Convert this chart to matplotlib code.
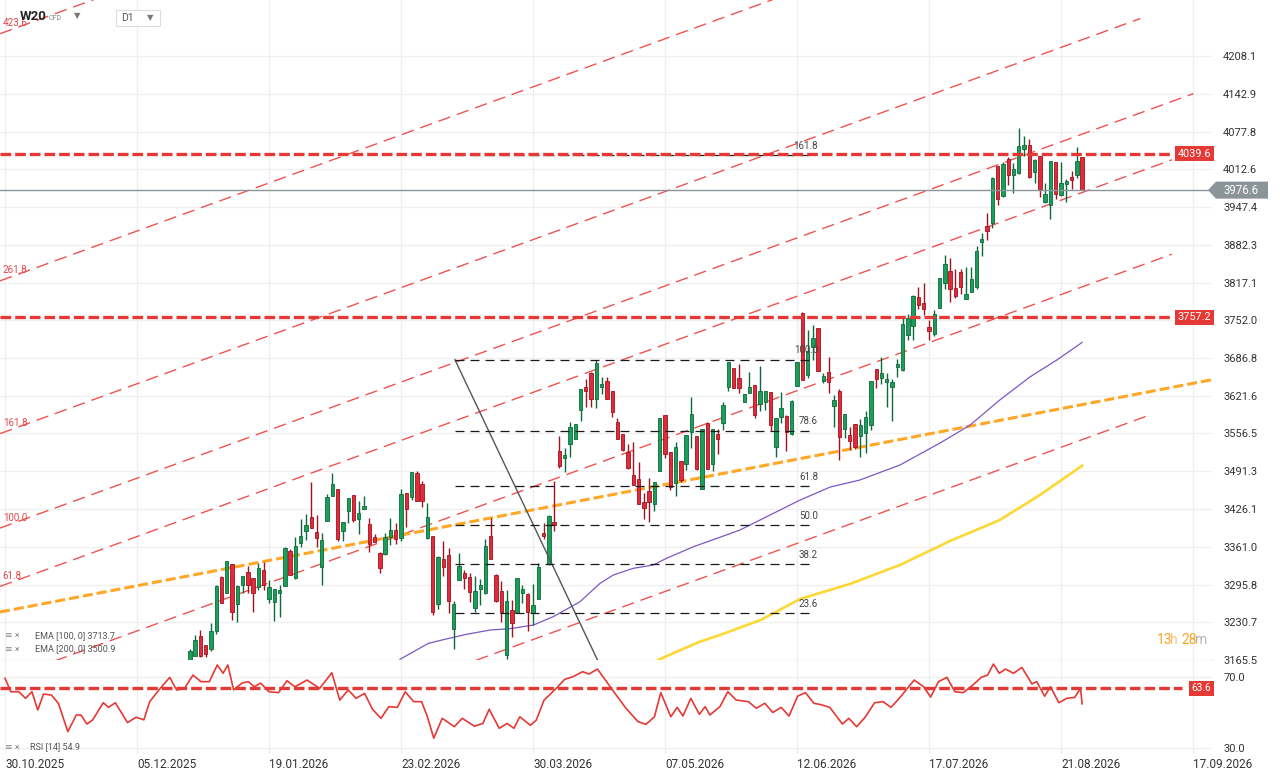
import numpy as np
import matplotlib.pyplot as plt
from matplotlib.patches import Polygon, Rectangle
from matplotlib.transforms import blended_transform_factory

plt.rcParams['font.family'] = ['Roboto', 'DejaVu Sans']

# ---- values, bar index 0 = 30.10.2025 ----
first_bar = 35
opens = [3163, 3173, 3207, 3191, 3184.5, 3215.6, 3308.8, 3281.7, 3330.6, 3262.7,
         3295.5, 3317.4, 3306.5, 3291.5, 3320.9, 3271.4, 3266.2, 3281.7, 3293.8, 3353.7,
         3306.5, 3368, 3388.8, 3411.8, 3386.4, 3326.6, 3406, 3449.2, 3460.7, 3388.8,
         3423.3, 3450.3, 3409.5, 3426.7, 3400.3, 3377.2, 3349.6, 3347.9, 3378.4, 3389.9,
         3375.5, 3453.8, 3446.3, 3487.7, 3469.3, 3376.7, 3379.5, 3262.7, 3339.8, 3346.2,
         3218.4, 3303.6, 3315.1, 3308.8, 3255.8, 3288.6, 3280.6, 3379.5, 3312.2, 3284,
         3174.1, 3251.2, 3247.2, 3280.6, 3278.9, 3247.2, 3270.2, 3385.3, 3330.6, 3403.7,
         3526.3, 3514.7, 3537.8, 3547.6, 3597.6, 3636.2, 3660.3, 3615.4, 3636.2, 3646.5,
         3630.4, 3576.3, 3555, 3524, 3484.2, 3477.3, 3438.8, 3456.6, 3435.3, 3492.3,
         3587.8, 3524, 3470.4, 3508.4, 3503.2, 3558.5, 3552.1, 3460.1, 3574, 3503.2,
         3555, 3574, 3636.2, 3668.9, 3651.7, 3611.4, 3626.9, 3639.6, 3607.4, 3610.8,
         3628.1, 3532.6, 3584.4, 3586.7, 3556.2, 3637.9, 3763.9, 3658, 3706.3, 3738,
         3647.7, 3662.6, 3603.9, 3630.4, 3564.8, 3553.9, 3572.9, 3552.7, 3556.7, 3570.5,
         3667.2, 3652.9, 3645.9, 3636.1, 3671.9, 3666.1, 3726.5, 3742.6, 3791.5, 3781.1,
         3740.9, 3727.6, 3772.5, 3816.8, 3836.9, 3807, 3834.6, 3788, 3801.3, 3809.9,
         3887.6, 3914.6, 3920.4, 4018.2, 3966.4, 4029.7, 4002.7, 4005.6, 4047, 4054.4,
         4007.3, 4035.5, 3956.6, 3950.9, 4025.1, 3967.6, 3986.6, 3999.8, 4002.1, 4034.3]
highs = [3184.5, 3208.7, 3217, 3191, 3229, 3295, 3310.5, 3336.4, 3330.6, 3295,
         3310, 3327.2, 3306.5, 3332.4, 3334.7, 3303, 3287.5, 3295, 3361, 3356.5,
         3377.2, 3408.3, 3417.5, 3472.8, 3415.2, 3384.7, 3452, 3488.3, 3460.7, 3403.7,
         3444.6, 3450.3, 3440, 3448.6, 3410, 3383, 3352.5, 3384.1, 3410, 3402.6,
         3460.7, 3453.8, 3490.5, 3491.7, 3473.9, 3436, 3379.5, 3345, 3371.5, 3358.8,
         3267.3, 3349.6, 3321, 3316, 3310, 3304.7, 3375, 3410, 3314, 3301.3,
         3286.3, 3269.1, 3307, 3295, 3282, 3296.1, 3332.4, 3401.4, 3416, 3474.5,
         3552.1, 3530.9, 3576.3, 3572.3, 3632.7, 3650, 3662.6, 3683.3, 3654, 3654,
         3630.4, 3582.6, 3555, 3538.3, 3541.8, 3507.3, 3453.2, 3480.2, 3472.2, 3582.6,
         3587.8, 3524, 3542.4, 3508.4, 3553.3, 3619.5, 3552.1, 3563.7, 3576.9, 3564.8,
         3564.8, 3610.3, 3679.3, 3668.9, 3675.9, 3624.1, 3663.2, 3639.6, 3673, 3629.8,
         3628.1, 3582.6, 3628.7, 3588.4, 3614.3, 3679.9, 3765.6, 3735.1, 3743.7, 3738,
         3661.5, 3689.1, 3622.9, 3633.8, 3590.1, 3567.1, 3572.9, 3582.1, 3595.3, 3647.7,
         3667.2, 3689.1, 3661.5, 3650, 3685.6, 3757, 3762.7, 3795.5, 3808.7, 3815.6,
         3752.4, 3769.6, 3824.3, 3864.6, 3860, 3840.4, 3840.4, 3844.4, 3844.4, 3880.7,
         3902, 3936.5, 3999.8, 4018.2, 4025.7, 4034.3, 4022.8, 4083.8, 4070, 4064.2,
         4029.7, 4035.5, 3989.4, 4026.8, 4025.1, 4025.1, 3995.2, 4009.6, 4051, 4034.3]
lows = [3155, 3172, 3171, 3171, 3181.6, 3211, 3264, 3281, 3235, 3231,
        3280.6, 3280.6, 3248.4, 3286, 3286, 3264.5, 3233.4, 3240.3, 3293, 3312,
        3305, 3360, 3372.6, 3394, 3361.1, 3295.5, 3406, 3449, 3371.5, 3371.5,
        3402.6, 3404, 3382.4, 3426, 3352.5, 3369, 3316.3, 3347, 3364, 3365.7,
        3371.5, 3395.7, 3441.7, 3440, 3430.2, 3374, 3243.2, 3254.1, 3310.5, 3247.2,
        3183.9, 3303, 3288.6, 3266.2, 3249, 3259.9, 3280, 3340, 3266, 3231.1,
        3166.7, 3205.8, 3247, 3263.3, 3216.1, 3225.9, 3270, 3374, 3330, 3388,
        3497.5, 3490, 3516.5, 3547, 3578.6, 3602.8, 3602.8, 3601.1, 3624.1, 3616,
        3585.6, 3547, 3527, 3495.8, 3468, 3434, 3408.3, 3403.7, 3423.3, 3492,
        3514.7, 3458.9, 3449.2, 3472.2, 3493.5, 3531.4, 3493.5, 3460, 3495.8, 3492.3,
        3520.5, 3562.5, 3630.4, 3635, 3626.9, 3611, 3626, 3583.8, 3595.9, 3597,
        3561.3, 3516.5, 3574, 3526.8, 3554.4, 3637.9, 3648, 3652.9, 3683.3, 3663.8,
        3643, 3626.9, 3567.1, 3510.7, 3548.1, 3528, 3530, 3515.3, 3523.4, 3562,
        3634.4, 3641.3, 3602.8, 3578.6, 3653.4, 3664, 3717.8, 3717.8, 3771.9, 3760.4,
        3717.8, 3724.7, 3772.5, 3805.3, 3784, 3790.9, 3797.2, 3788, 3801, 3805.9,
        3862.8, 3890.5, 3910.6, 3950.9, 3964.1, 3985.4, 3972.2, 4005, 4035.5, 3996.9,
        3988.3, 3964.1, 3954.9, 3926.1, 3961.8, 3967, 3956.6, 3978.5, 3996.9, 3976.6]
closes = [3181, 3200, 3173, 3176, 3215.6, 3293.8, 3264.5, 3336.4, 3249, 3293.2,
          3309.9, 3295.5, 3281.7, 3324.3, 3295, 3291.5, 3287.5, 3286.3, 3358.8, 3312.8,
          3361.7, 3379.5, 3398, 3394, 3376.7, 3372.6, 3446.9, 3469.3, 3375, 3403.7,
          3444.6, 3407.2, 3419.2, 3431.3, 3365.2, 3369.8, 3324.9, 3378.4, 3389.9, 3373.8,
          3452, 3426.7, 3490, 3440.5, 3440.5, 3411.8, 3247.8, 3343.9, 3325.5, 3267.9,
          3262.2, 3328.3, 3307.6, 3282.3, 3284, 3295, 3361.7, 3340.4, 3267.9, 3247.8,
          3266.8, 3228.8, 3307, 3287.5, 3249, 3260.4, 3326.6, 3379.5, 3414.1, 3399,
          3500.9, 3518.8, 3567.1, 3572.3, 3632.7, 3630.4, 3616.6, 3677.6, 3641.9, 3616.6,
          3594.2, 3547.6, 3527.4, 3496.9, 3468.1, 3434.2, 3428.4, 3438.8, 3472.2, 3582.6,
          3521.7, 3464.7, 3532.6, 3475.6, 3553.3, 3589.6, 3495.8, 3563.7, 3495.8, 3564.8,
          3546.4, 3605.1, 3679.3, 3635.6, 3634.4, 3624.1, 3636.1, 3587.8, 3629.8, 3629.8,
          3571.7, 3582.6, 3600.5, 3559.6, 3613.1, 3679.9, 3648.2, 3699.4, 3721.3, 3663.8,
          3655.1, 3645.9, 3614.3, 3551, 3590.1, 3544.1, 3532.6, 3570.5, 3584.9, 3647.7,
          3650.5, 3661.5, 3650.5, 3644.8, 3676.4, 3745.5, 3755.3, 3793.8, 3777.7, 3770.8,
          3733.9, 3762.1, 3824.3, 3849, 3805.3, 3794.4, 3808.7, 3797.2, 3822.6, 3871.5,
          3892.2, 3906.6, 3996.9, 3960.6, 4021.1, 4002.7, 4012.4, 4052.7, 4054.4, 3999.8,
          4028.6, 3977.9, 3969.3, 4026.8, 3969.3, 3988.3, 3992.3, 3993.5, 4026.8, 3976.6]

date_labels = ['30.10.2025', '05.12.2025', '19.01.2026', '23.02.2026', '30.03.2026',
               '07.05.2026', '12.06.2026', '17.07.2026', '21.08.2026', '17.09.2026']
date_bars = [0, 25, 50, 75, 100, 125, 150, 175, 200, 225]

price_ticks = [4208.1, 4142.9, 4077.8, 4012.6, 3947.4, 3882.3, 3817.1, 3752.0, 3686.8,
               3621.6, 3556.5, 3491.3, 3426.1, 3361.0, 3295.8, 3230.7, 3165.5]

ema100_bars = [74.8, 80.2, 83.3, 87.4, 91.9, 95.6, 100.1, 103.8, 108.9, 112.7, 115.2, 119.0,
               122.8, 125.3, 130.4, 135.4, 139.2, 146.8, 150.6, 156.3, 161.9, 169.5, 177.1,
               182.8, 188.4, 194.1, 199.2, 204.0]
ema100_vals = [3166.7, 3194.3, 3201.2, 3209.8, 3217.3, 3219.5, 3225.9, 3240.2, 3266.1, 3297.9,
               3312.2, 3323.8, 3329.5, 3341.1, 3361.1, 3377.3, 3389.9, 3424.4, 3441.7, 3464.1,
               3476.2, 3502.1, 3540.1, 3571.1, 3614.3, 3654.0, 3683.3, 3713.7]
ema200_bars = [123.7, 127.2, 131.6, 135.4, 143.1, 150.6, 160.0, 169.5, 179.0, 188.4, 196.0, 204.0]
ema200_vals = [3165.5, 3179.8, 3197.1, 3208.6, 3234.5, 3270.8, 3296.7, 3329.5, 3371.0, 3407.1,
               3450.3, 3500.9]

rsi_bars = [0.0, 1.1, 2.6, 3.9, 5.1, 6.2, 7.3, 8.8, 10.1, 11.9,
            13.5, 14.4, 15.5, 16.6, 18.6, 19.6, 20.9, 23.2, 24.8, 26.3,
            27.4, 29.4, 31.2, 32.5, 34.0, 35.6, 37.1, 38.7, 40.2, 41.3,
            42.2, 43.3, 44.9, 46.1, 47.2, 48.4, 50.0, 51.8, 53.4, 54.9,
            57.2, 59.6, 61.9, 63.4, 65.0, 66.5, 68.1, 69.6, 71.2, 72.7,
            74.3, 75.8, 77.4, 78.9, 80.0, 81.2, 82.8, 85.1, 86.6, 88.9,
            90.5, 91.7, 93.6, 95.1, 96.4, 97.5, 99.5, 100.6, 102.1, 104.4,
            106.0, 107.5, 109.4, 110.6, 112.2, 113.7, 115.3, 117.6, 119.9, 121.4,
            123.0, 124.2, 126.1, 127.3, 128.4, 129.9, 131.5, 132.6, 133.5, 135.4,
            136.9, 138.5, 140.8, 142.3, 143.9, 145.4, 147.0, 148.5, 150.1, 151.6,
            153.2, 154.7, 156.2, 158.6, 159.8, 161.3, 162.9, 164.7, 166.3, 167.8,
            169.4, 170.9, 172.2, 174.0, 175.3, 176.8, 178.4, 179.9, 181.5, 183.3,
            184.9, 186.1, 187.2, 188.3, 189.5, 191.0, 192.6, 194.5, 195.4, 196.9,
            198.0, 199.6, 201.1, 202.6, 203.7, 204.0]
rsi_vals = [69.3, 61.7, 61.7, 58, 61.7, 51.4, 60.4, 59.8, 55.2, 39.2,
            48.6, 48.6, 43.5, 45.8, 55.5, 52.9, 55.5, 44.3, 47.3, 45.9,
            56.1, 63.6, 69.8, 62.7, 63.6, 71.1, 67.4, 67.4, 76.8, 72.1,
            76.8, 62.7, 66.6, 67.4, 64.5, 66.6, 61.7, 61.2, 67.9, 64.5,
            68.3, 63.6, 72.4, 57, 62.7, 58, 60.8, 51.8, 46.7, 53.3,
            52.9, 61.7, 56.1, 56.1, 47.6, 35.5, 46.7, 42.0, 46.7, 42.3,
            43.8, 51.8, 41.1, 43.8, 41.1, 47.6, 42.8, 45.6, 57, 63.6,
            68.7, 70.1, 73.0, 71.7, 74.5, 68.3, 61.7, 52.4, 44.8, 43.3,
            47.6, 61.2, 47.6, 52.9, 48, 58, 49, 53.3, 48.6, 53.3,
            61.7, 57, 56.1, 52.4, 55.2, 50.0, 52.9, 48, 59.2, 61.2,
            55.2, 54.3, 52.9, 43.5, 46.7, 42, 47.3, 55.5, 56.1, 52.9,
            58.1, 63.6, 68.3, 64.5, 58.7, 67.4, 69.8, 61.7, 61.2, 65.5,
            69.8, 71.1, 77.3, 72.1, 74.5, 72.1, 75.4, 66.1, 67.4, 59.2,
            64.5, 55.5, 58, 58.5, 63.6, 54.9]

# drawn objects
fib_levels = [23.6, 38.2, 50.0, 61.8, 78.6, 100.0, 161.8]
fib_low, fib_high = 3112.0, 3684.0
fib_high_bar, fib_low_bar, fib_end_bar = 85.2, 115.0, 153.4

chan_levels = [-100, 0, 61.8, 100, 161.8, 261.8, 423.6]
chan_ends = [217.2, 221.0, 221.0, 225.1, 215.0, 215.0, 215.0]
chan_labels = ['', '', '61.8', '100.0', '161.8', '261.8', '423.6']
chan_base, chan_unit, chan_slope = 3132.7, 2.637, 3.318

trend_pts = [(0, 3250.0), (200, 3599.4)]
levels = [4039.6, 3757.2]
last_price = 3976.6
rsi_level = 63.6
rsi_now = 54.9
ema100_now, ema200_now = 3713.7, 3500.9

GREEN, GREEN_E = '#1b9e5a', '#0b6a3a'
RED_C, RED_E = '#e12b3b', '#a3121f'
RED = '#e53935'

W, H = 1280, 779
fig = plt.figure(figsize=(W / 100, H / 100), dpi=100)


def frame(x0, y0, x1, y1):
    return [x0 / W, 1 - y1 / H, (x1 - x0) / W, (y1 - y0) / H]


ax = fig.add_axes(frame(0, 0, 1212, 660))
ax2 = fig.add_axes(frame(0, 660, 1212, 754), sharex=ax)
xmin, xmax = -0.95, 228.6
ax.set_xlim(xmin, xmax)
ax.set_ylim(3165.5, 4304.8)
ax2.set_ylim(26.6, 79.6)

for a in (ax, ax2):
    for s in a.spines.values():
        s.set_visible(False)
    a.set_xticks(date_bars)
    a.grid(True, color='#efefef', lw=0.9)
    a.set_axisbelow(True)
    a.yaxis.tick_right()
    a.tick_params(length=0, labelsize=8, labelcolor='#333333')
    a.tick_params(axis='y', pad=8)
ax.spines['bottom'].set_visible(True)
ax.spines['bottom'].set_color('#dddddd')
ax.tick_params(labelbottom=False)
ax.set_yticks(price_ticks)
ax.set_yticklabels([f'{v:.1f}' for v in price_ticks])
ax2.set_yticks([30, 70])
ax2.set_yticklabels(['30.0', '70.0'])
ax2.set_xticklabels(date_labels, fontsize=8.5)
ax2.tick_params(axis='x', pad=3)
for t in ax2.get_xticklabels():
    t.set_ha('left')

# fib channel (parallel red dashed lines)
for lv, end, lab in zip(chan_levels, chan_ends, chan_labels):
    xs = np.array([xmin, end])
    ys = chan_base + chan_unit * lv + chan_slope * xs
    ax.plot(xs, ys, color='#ef5350', lw=1.0, ls=(0, (9, 5)), zorder=2)
    if lab:
        ax.annotate(lab, (xmin, ys[0]), xytext=(2, 4), textcoords='offset points',
                    fontsize=7, color='#e04848', va='bottom', ha='left',
                    annotation_clip=False)

# orange trend line
(tx0, ty0), (tx1, ty1) = trend_pts
k = (ty1 - ty0) / (tx1 - tx0)
ax.plot([xmin, xmax], [ty0 + k * (xmin - tx0), ty0 + k * (xmax - tx0)],
        color='#ffa726', lw=2.2, ls=(0, (3.3, 1.3)), zorder=3)

# EMAs
ax.plot(ema100_bars, ema100_vals, color='#7e57c2', lw=0.9, zorder=3)
ax.plot(ema200_bars, ema200_vals, color='#fdd835', lw=1.9, zorder=3)

# candles
o, h, l, c = map(np.array, (opens, highs, lows, closes))
bars = np.arange(first_bar, first_bar + len(c))
up = c >= o
for m, face, edge in ((up, GREEN, GREEN_E), (~up, RED_C, RED_E)):
    ax.vlines(bars[m], l[m], h[m], color=edge, lw=1.0, zorder=4)
    ax.bar(bars[m], np.maximum(np.abs(c - o)[m], 1.6), 0.64,
           bottom=np.minimum(o, c)[m], color=face, edgecolor=edge, lw=0.6, zorder=5)

# fibonacci retracement
ax.plot([fib_high_bar, fib_low_bar], [fib_high, fib_low], color='#555555', lw=1.0, zorder=6)
for lv in fib_levels:
    p = fib_low + (fib_high - fib_low) * lv / 100
    ax.plot([fib_high_bar, fib_end_bar], [p, p], color='#1a1a1a', lw=0.9,
            ls=(0, (7.2, 4.8)), zorder=6)
    ax.annotate(f'{lv:.1f}', (fib_end_bar + 0.6, p), xytext=(0, 3), textcoords='offset points',
                fontsize=7, color='#444444', ha='right', va='bottom', zorder=7)

# horizontal levels
yt = blended_transform_factory(ax.transAxes, ax.transData)
for lv in levels:
    ax.plot([xmin, 220.6], [lv, lv], color=RED, lw=2.4, ls=(0, (3.2, 1.2)), zorder=7)
    ax.text(0.9995, lv, f'{lv:.1f}', transform=yt, ha='right', va='center', color='white',
            fontsize=7.8, zorder=9,
            bbox=dict(boxstyle='square,pad=0.25', fc=RED, ec='none'))

ax.axhline(last_price, color='#8a9499', lw=1.0, zorder=6, xmax=1208 / 1212)
ft = blended_transform_factory(fig.transFigure, ax.transData)
hh = 8.5 * 1.7262
tag = Polygon([(1208 / W, last_price), (1216 / W, last_price + hh), (1268 / W, last_price + hh),
               (1268 / W, last_price - hh), (1216 / W, last_price - hh)],
              closed=True, fc='#8a9499', ec='none', transform=ft, clip_on=False, zorder=9)
fig.add_artist(tag)
fig.text(1241 / W, 0, f'{last_price:.1f}', transform=ft, ha='center', va='center',
         color='white', fontsize=8.3, zorder=10).set_y(last_price)

# RSI panel
ax2.plot(rsi_bars, rsi_vals, color=RED, lw=1.2, zorder=4)
ax2.plot([xmin, 223.0], [rsi_level, rsi_level], color=RED, lw=2.4, ls=(0, (3.2, 1.2)), zorder=5)
yt2 = blended_transform_factory(ax2.transAxes, ax2.transData)
ax2.text(0.9995, rsi_level, f'{rsi_level:.1f}', transform=yt2, ha='right', va='center',
         color='white', fontsize=7.3, zorder=9,
         bbox=dict(boxstyle='square,pad=0.25', fc=RED, ec='none'))

# legends / header
fig.text(5 / W, 1 - 636 / H, '≡ ×', fontsize=6.5, color='#888888', va='center')
fig.text(35 / W, 1 - 636 / H, f'EMA [100, 0] {ema100_now:.1f}', fontsize=6.5, color='#555555', va='center')
fig.text(5 / W, 1 - 649 / H, '≡ ×', fontsize=6.5, color='#888888', va='center')
fig.text(35 / W, 1 - 649 / H, f'EMA [200, 0] {ema200_now:.1f}', fontsize=6.5, color='#555555', va='center')
fig.text(5 / W, 1 - 747 / H, '≡ ×', fontsize=6.5, color='#888888', va='center')
fig.text(30 / W, 1 - 747 / H, f'RSI [14] {rsi_now:.1f}', fontsize=6.5, color='#555555', va='center')

# countdown "13h 28m" in pieces
for txt, xpx, col in (('13', 1157, '#f5a623'), ('h', 1170, '#f8c27a'),
                      ('28', 1181, '#f5a623'), ('m', 1195, '#b5b5b5')):
    fig.text(xpx / W, 1 - 640 / H, txt, fontsize=10, color=col, ha='left', va='center')

fig.text(20 / W, 1 - 17 / H, 'W20', fontsize=9.5, fontweight='bold', color='#222222', va='center')
fig.text(49 / W, 1 - 19 / H, 'CFD', fontsize=5, color='#888888', va='center')
fig.text(74 / W, 1 - 16 / H, '▼', fontsize=6, color='#777777', va='center')
fig.add_artist(Rectangle((116 / W, 1 - 26 / H), 44 / W, 16 / H, transform=fig.transFigure,
                         fc='white', ec='#dddddd', lw=0.8))
fig.text(121 / W, 1 - 18 / H, 'D1', fontsize=7.5, color='#555555', va='center')
fig.text(147 / W, 1 - 18 / H, '▼', fontsize=6, color='#777777', va='center')

fig.savefig('out.png', dpi=100, facecolor='white')
